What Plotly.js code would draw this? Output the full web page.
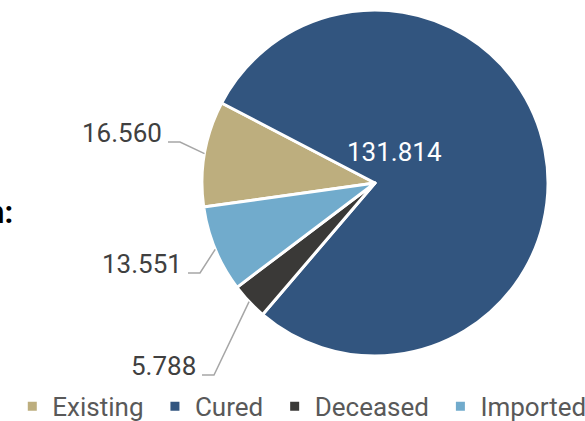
<!DOCTYPE html>
<html>
<head>
<meta charset="utf-8">
<script src="https://cdn.plot.ly/plotly-3.0.1.min.js"></script>
<style>
  html, body { margin: 0; padding: 0; background: #fff; }
  #chart { width: 585px; height: 421px; }
</style>
</head>
<body>
<div id="chart"></div>
<script>
// chart data
var categories = ["Existing", "Cured", "Deceased", "Imported"];
var cases = [16560, 131814, 5788, 13551];
var colors = ["#bdae7e", "#32557f", "#3a3937", "#71abcc"];

// page size and where the pie sits (pixels)
var W = 585, H = 421;
var cx = 375, cy = 183, R = 173;
var rotation = 262;

// outside label placement: line y and where the horizontal piece starts
var outside = {
  "Existing": { lineY: 142, lineX0: 168 },
  "Deceased": { lineY: 375, lineX0: 202 },
  "Imported": { lineY: 273, lineX0: 188 }
};

function fmt(v) {
  return String(v).replace(/\B(?=(\d{3})+(?!\d))/g, ".");
}
function px(x) { return x / W; }
function py(y) { return 1 - y / H; }

var total = cases.reduce(function(a, b) { return a + b; }, 0);

var trace = {
  type: "pie",
  // trailing nbsp widens the legend entries a little
  labels: categories.map(function(c) { return c + "\u00a0"; }),
  values: cases,
  sort: false,
  direction: "clockwise",
  rotation: rotation,
  textinfo: "none",
  hoverinfo: "label+value",
  marker: { colors: colors, line: { color: "#ffffff", width: 3 } },
  domain: { x: [px(cx - R), px(cx + R)], y: [py(cy + R), py(cy - R)] }
};

var annotations = [];
var shapes = [];
var cum = 0;
for (var i = 0; i < cases.length; i++) {
  var mid = (rotation + (cum + cases[i] / 2) * 360 / total) * Math.PI / 180;
  cum += cases[i];
  var o = outside[categories[i]];
  if (!o) {
    // big slice keeps its label inside
    annotations.push({
      x: px(394), y: py(152), xref: "paper", yref: "paper",
      xanchor: "center", yanchor: "middle",
      text: fmt(cases[i]), showarrow: false,
      font: { family: "Roboto", size: 26, color: "#ffffff" }
    });
    continue;
  }
  var ax = cx + R * Math.sin(mid), ay = cy - R * Math.cos(mid);
  var ex = o.lineX0 + 12;
  shapes.push({
    type: "path", xref: "paper", yref: "paper",
    path: "M" + px(o.lineX0) + "," + py(o.lineY) + " L" + px(ex) + "," + py(o.lineY) +
          " L" + px(ax) + "," + py(ay),
    line: { color: "#a6a6a6", width: 1.5 }
  });
  annotations.push({
    x: px(o.lineX0 - 4), y: py(o.lineY - 9), xref: "paper", yref: "paper",
    xanchor: "right", yanchor: "middle",
    text: fmt(cases[i]), showarrow: false,
    font: { family: "Roboto", size: 26, color: "#404040" }
  });
}

// cut off heading at the left edge
annotations.push({
  x: px(15), y: py(212), xref: "paper", yref: "paper",
  xanchor: "right", yanchor: "middle",
  text: "n:", showarrow: false,
  font: { family: "Roboto", size: 31, color: "#000000", weight: 700 }
});

var layout = {
  width: W,
  height: H,
  margin: { l: 0, r: 0, t: 0, b: 0, autoexpand: false },
  paper_bgcolor: "#ffffff",
  showlegend: true,
  legend: {
    orientation: "h",
    x: 0.021, xanchor: "left",
    y: -0.021, yanchor: "bottom",
    font: { family: "Roboto", size: 26, color: "#595959" }
  },
  annotations: annotations,
  shapes: shapes
};

Plotly.newPlot("chart", [trace], layout, { displayModeBar: false });
</script>
</body>
</html>
